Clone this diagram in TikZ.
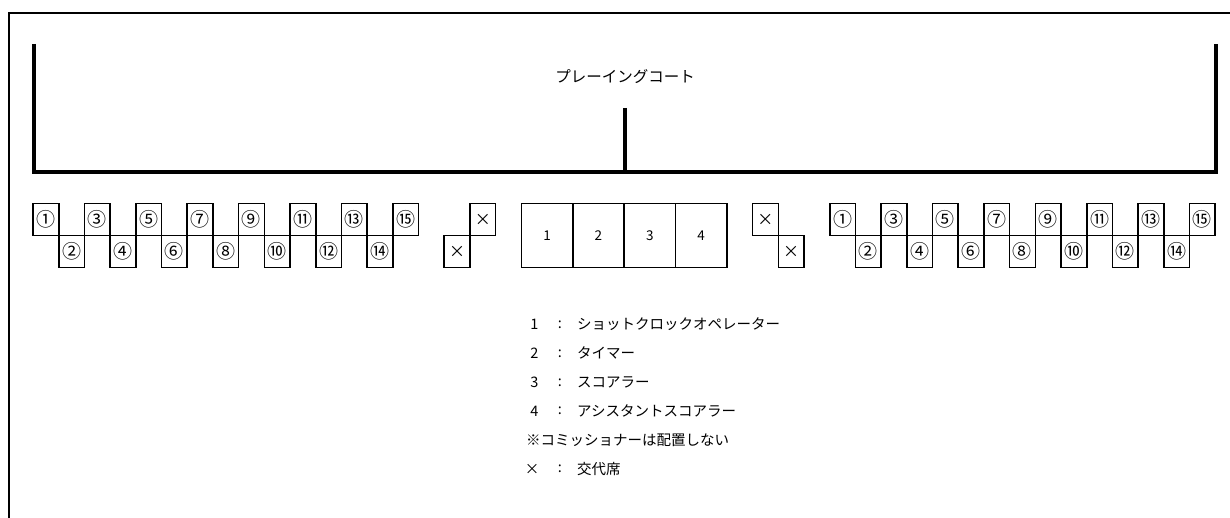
\documentclass[tikz,border=0pt]{standalone}
\usepackage{fontspec}
\setmainfont{Noto Sans CJK JP}
\begin{document}
\begin{tikzpicture}[x=1pt,y=-1pt,
  frame/.style={line width=2pt},
  court/.style={line width=4pt,line join=miter},
  seat/.style={draw,line width=1.6pt,rectangle,minimum width=25.7pt,minimum height=32pt,inner sep=0pt,font=\fontsize{19}{19}\selectfont},
  cell/.style={draw,line width=1.6pt,rectangle,minimum width=51.4pt,minimum height=64pt,inner sep=0pt,font=\fontsize{13.5}{14}\selectfont},
  xseat/.style={seat,font=\fontsize{16}{16}\selectfont},
  legend/.style={inner sep=0pt,font=\fontsize{14.5}{15}\selectfont},
  title/.style={inner sep=0pt,font=\fontsize{15.5}{16}\selectfont}]
\useasboundingbox (0,0) rectangle (1230,518);
\clip (0,0) rectangle (1230,518);
% outer frame (extends past the page)
\draw[frame] (8.5,13) rectangle (1260,560);
% court
\coordinate (cTL) at (34,44);
\coordinate (cBL) at (34,172);
\coordinate (cBR) at (1215.5,172);
\coordinate (cTR) at (1215.5,44);
\coordinate (cM) at (624.5,108);
\coordinate (cMB) at (624.5,172);
\draw[court] (cTL) -- (cBL) -- (cBR) -- (cTR);
\draw[court] (cM) -- (cMB);
\node[title] (court) at (625,77) {プレーイングコート};
% seats
\def\w{25.7}
\foreach \k/\c in {1/①,2/②,3/③,4/④,5/⑤,6/⑥,7/⑦,8/⑧,9/⑨,10/⑩,11/⑪,12/⑫,13/⑬,14/⑭,15/⑮}{
  \pgfmathsetmacro{\yy}{isodd(\k) ? 219.5 : 251.5}
  \pgfmathsetmacro{\xl}{33+(\k-0.5)*\w}
  \pgfmathsetmacro{\xr}{33+(30+\k+0.5)*\w}
  \node[seat] (L\k) at (\xl,\yy) {\c};
  \node[seat] (R\k) at (\xr,\yy) {\c};
}
% substitute seats
\node[xseat] (XL1) at ({33+16.5*\w},251.5) {×};
\node[xseat] (XL2) at ({33+17.5*\w},219.5) {×};
\node[xseat] (XR1) at ({33+28.5*\w},219.5) {×};
\node[xseat] (XR2) at ({33+29.5*\w},251.5) {×};
% table
\foreach \i in {1,2,3,4}{
  \node[cell] (T\i) at ({33+(19+2*\i-1)*\w},235.5) {\i};
}
% legend
\node[legend] (n1) at (534.5,324.5) {1};
\node[legend] (c1) at (560,324.5) {:};
\node[legend,anchor=west] (t1) at (577,324.5) {ショットクロックオペレーター};
\node[legend] (n2) at (534.5,353.4) {2};
\node[legend] (c2) at (560,353.4) {:};
\node[legend,anchor=west] (t2) at (577,353.4) {タイマー};
\node[legend] (n3) at (534.5,382.3) {3};
\node[legend] (c3) at (560,382.3) {:};
\node[legend,anchor=west] (t3) at (577,382.3) {スコアラー};
\node[legend] (n4) at (534.5,411.2) {4};
\node[legend] (c4) at (560,411.2) {:};
\node[legend,anchor=west] (t4) at (577,411.2) {アシスタントスコアラー};
\node[legend,anchor=west] (t5) at (526,440.1) {※コミッショナーは配置しない};
\node[legend] (n6) at (532,469) {×};
\node[legend] (c6) at (560,469) {:};
\node[legend,anchor=west] (t6) at (577,469) {交代席};
\end{tikzpicture}
\end{document}
